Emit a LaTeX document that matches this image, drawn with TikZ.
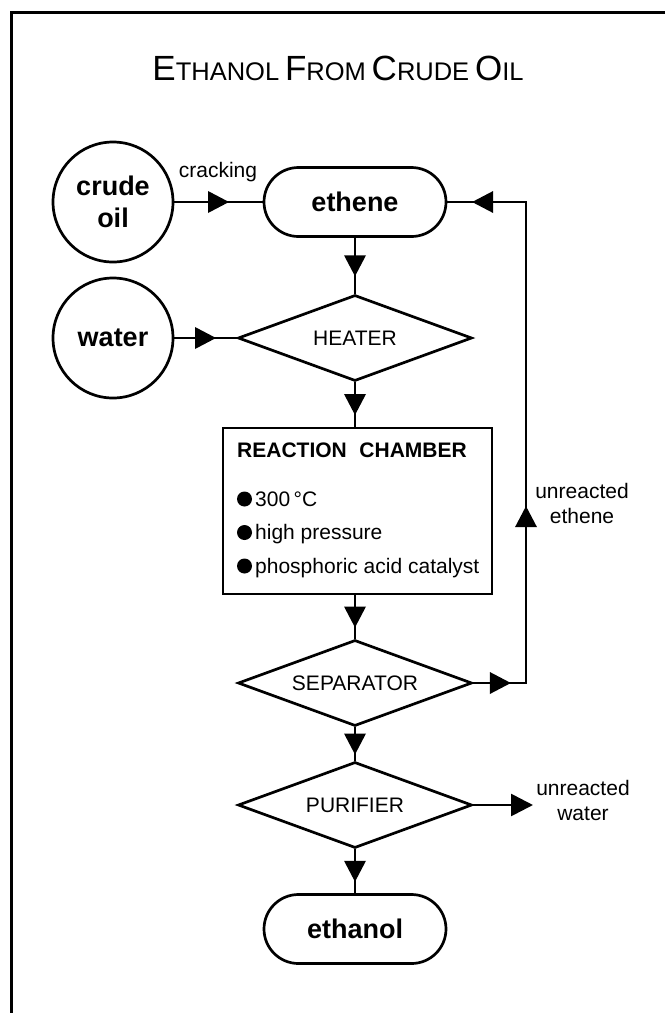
\documentclass[tikz,border=0pt]{standalone}
\usepackage{fontspec}
\setmainfont{Liberation Sans}
\usetikzlibrary{shapes.geometric,decorations.markings,arrows.meta}
\newcommand\arrtri{\fill (10.5pt,0pt) -- (-10.5pt,11pt) -- (-10.5pt,-11pt) -- cycle;}
\newcommand\TitBig[1]{{\fontsize{35}{40}\selectfont #1}}
\newcommand\TitSm[1]{{\fontsize{25.5}{29}\selectfont #1}}
\begin{document}
\begin{tikzpicture}[x=1pt,y=-1pt,
  every node/.style={font=\fontsize{21}{25}\selectfont},
  shp/.style={draw,line width=2.7pt},
  boldtxt/.style={font=\fontsize{27}{32}\selectfont\bfseries},
  src/.style={shp,circle,minimum size=120pt,inner sep=0pt,align=center,boldtxt},
  term/.style={shp,rectangle,rounded corners=34.5pt,minimum width=182pt,minimum height=69pt,boldtxt},
  proc/.style={shp,diamond,shape aspect=2.72,minimum width=234pt,minimum height=86pt,inner sep=0pt},
  conn/.style={line width=2.7pt},
  mid/.style={conn,postaction={decorate},decoration={markings,mark=at position 0.5 with {\arrtri}}},
  tip/.style={conn,-{Triangle[length=22pt,width=22pt]}},
  lbl/.style={align=center,inner sep=0pt},
]
\useasboundingbox (0,0) rectangle (665,1013);
% frame
\draw[line width=3pt] (11,1013) -- (11,12) -- (665,12);
% title
\node[anchor=base] (title) at (338,80) {\TitBig{E}\TitSm{THANOL} \TitBig{F}\TitSm{ROM} \TitBig{C}\TitSm{RUDE} \TitBig{O}\TitSm{IL}};
% nodes
\node[src] (crude) at (113,202) {crude\\oil};
\node[src] (water) at (113,338) {water};
\node[term] (eth) at (355,202) {ethene};
\node[proc] (heat) at (355,338) {HEATER};
\node[shp,rectangle,minimum width=269pt,minimum height=166pt,inner sep=0pt] (box) at (357.5,511) {};
\node[anchor=base west,inner sep=0pt,font=\fontsize{21}{25}\selectfont\bfseries] (boxtitle) at (237,457) {REACTION\hspace{0.6em}CHAMBER};
\node[anchor=base west,inner sep=0pt] (b1) at (255,506) {300\,°C};
\node[anchor=base west,inner sep=0pt] (b2) at (255,539.5) {high pressure};
\node[anchor=base west,inner sep=0pt] (b3) at (255,573) {phosphoric acid catalyst};
\fill (244.5,499) circle (7.5pt);
\fill (244.5,532.5) circle (7.5pt);
\fill (244.5,566) circle (7.5pt);
\node[proc] (sep) at (355,683) {SEPARATOR};
\node[proc] (pur) at (355,805) {PURIFIER};
\node[term] (etoh) at (355,929) {ethanol};
% labels
\node[anchor=base] (crack) at (218,177) {cracking};
\node[lbl] (ue) at (582,503.5) {unreacted\\ethene};
\node[lbl] (uwl) at (583,800) {unreacted\\water};
% connectors
\draw[mid] (crude) -- (eth);
\draw[mid] (water) -- (heat);
\draw[mid] (eth) -- (heat);
\draw[mid] (heat.south) -- (heat.south |- box.north);
\draw[mid] (sep.north |- box.south) -- (sep.north);
\draw[mid] (sep) -- (pur);
\draw[mid] (pur) -- (etoh);
\coordinate (fb1) at (526,683);
\coordinate (fb2) at (526,202);
\draw[conn,line join=miter,postaction={decorate},decoration={markings,
  mark=at position 27pt with {\arrtri},
  mark=at position 219pt with {\arrtri},
  mark=at position 577pt with {\arrtri}}]
  (sep.east) -- (fb1) -- (fb2) -- (eth.east);
\coordinate (uw) at (533,805);
\draw[tip] (pur.east) -- (uw);
\end{tikzpicture}
\end{document}
